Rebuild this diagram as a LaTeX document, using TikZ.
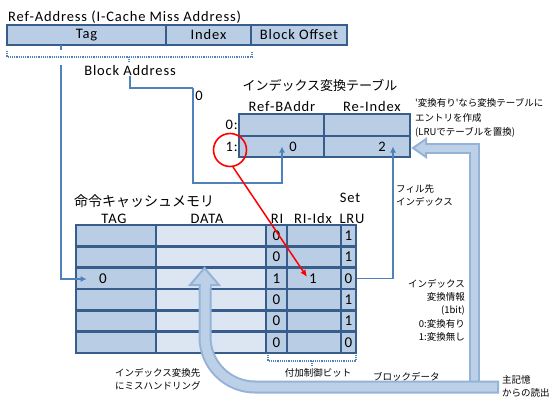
\documentclass[tikz,border=0pt]{standalone}
\usepackage{fontspec}
\setmainfont{Carlito}[LetterSpace=6]
\newfontfamily\jp{Noto Sans CJK JP}
\usetikzlibrary{arrows.meta,calc}
\definecolor{cellA}{HTML}{B9CDE5}
\definecolor{cellB}{HTML}{DCE6F2}
\definecolor{bord}{HTML}{385D8A}
\definecolor{wire}{HTML}{4F81BD}
\definecolor{fatout}{HTML}{95B3D7}
\definecolor{fatin}{HTML}{BCD0E8}
\begin{document}
\begin{tikzpicture}[x=1pt,y=-1pt,
  every node/.style={inner sep=0pt},
  cellbox/.style={draw=bord, line width=2.6pt, fill=cellA, minimum height=21.33pt, font=\fontsize{15}{15}\selectfont},
  databox/.style={cellbox, fill=cellB},
  lat/.style={font=\fontsize{14.5}{15}\selectfont},
  jpbig/.style={font=\jp\fontsize{13}{14}\selectfont},
  jpsmall/.style={font=\jp\fontsize{9.5}{11}\selectfont},
  wireline/.style={draw=wire, line width=1.4pt},
  wirearrow/.style={wireline, -{Latex[length=6pt,width=6pt]}},
  bracestyle/.style={draw=wire, line width=1.2pt, densely dotted},
  fatline/.style={line width=13pt, draw=fatout},
  fatinner/.style={line width=9pt, draw=fatin},
  fathead/.style={draw=fatout, line width=2pt, fill=fatin, line join=miter}
]
\useasboundingbox (0,0) rectangle (556,399);

% ---------- address bar ----------
\node[lat, anchor=west] (reftitle) at (8,17) {Ref-Address (I-Cache Miss Address)};
\node[cellbox, lat, minimum width=159pt, minimum height=20pt] (tag) at (86.5,35) {Tag};
\node[cellbox, lat, minimum width=85pt, minimum height=20pt] (idx) at (208.5,35) {Index};
\node[cellbox, lat, minimum width=96pt, minimum height=20pt] (boff) at (299,35) {Block Offset};

% brace under Tag+Index
\draw[bracestyle] (7,51) -- (7,57) -- (252,57) -- (252,51);
\draw[bracestyle] (129,57) -- (129,62);
\node[lat] (ba) at (130,71) {Block Address};

% ---------- index translation table ----------
\node[jpbig] (tttitle) at (320,85) {インデックス変換テーブル};
\node[lat] (hRB) at (282,107) {Ref-BAddr};
\node[lat] (hRI) at (372,107) {Re-Index};
\node[cellbox, minimum width=85pt, minimum height=22pt] (t0a) at (281.5,125) {};
\node[cellbox, minimum width=86pt, minimum height=22pt] (t0b) at (367,125) {};
\node[cellbox, minimum width=85pt, minimum height=21pt] (t1a) at (281.5,146.5) {};
\node[cellbox, minimum width=86pt, minimum height=21pt] (t1b) at (367,146.5) {};
\node[lat, anchor=east] (l0) at (238,125) {0:};
\node[lat, anchor=east] (l1) at (238,147) {1:};
\node[lat] (v0) at (293,147) {0};
\node[lat] (v2) at (382,147) {2};

\node[jpsmall, anchor=west] (n1) at (415,103) {'変換有り'なら変換テーブルに};
\node[jpsmall, anchor=west] (n2) at (415,117.5) {エントリを作成};
\node[jpsmall, anchor=west] (n3) at (415,132) {(LRUでテーブルを置換)};

% ---------- instruction cache ----------
\node[font=\jp\fontsize{14}{15}\selectfont, anchor=west] (ctitle) at (74,201) {命令キャッシュメモリ};
\node[lat] (hset) at (350,198) {Set};
\node[lat] (htag) at (114,219) {TAG};
\node[lat] (hdata) at (207,219) {DATA};
\node[lat] (hri) at (277,219) {RI};
\node[lat] (hridx) at (313,219) {RI-Idx};
\node[lat] (hlru) at (352,219) {LRU};

\foreach \r/\ri/\lru in {1/0/1,2/0/1,3/1/0,4/0/1,5/0/1,6/0/0} {
  \pgfmathsetmacro\yy{225+(\r-0.5)*21.33}
  \node[cellbox, minimum width=80pt] (ctag\r) at (116,\yy) {};
  \node[databox, minimum width=110pt] (cdata\r) at (211,\yy) {};
  \node[cellbox, minimum width=21pt] (cri\r) at (276.5,\yy) {\ri};
  \node[cellbox, minimum width=54pt] (cridx\r) at (314,\yy) {};
  \node[cellbox, minimum width=15pt] (clru\r) at (348.5,\yy) {\lru};
}
\node[font=\fontsize{15}{15}\selectfont] (tagval) at (103,279) {0};
\node[font=\fontsize{15}{15}\selectfont] (ridxval) at (313,279) {1};

% brace under control bits
\draw[bracestyle] (268,355) -- (268,361) -- (356,361) -- (356,355);
\draw[bracestyle] (312,361) -- (312,366);
\node[jpsmall] (ctrl) at (318,373) {付加制御ビット};

% ---------- big fat arrows ----------
\coordinate (rtop) at (474,148);
\coordinate (rhead) at (426,148);
\coordinate (rbot) at (474,385);
\draw[fatline, line width=11pt] (rbot) -- (rtop) -- (rhead);
\draw[fatinner, line width=7pt] (rbot) -- (rtop) -- (rhead);
\draw[fathead] (426,139) -- (413,148) -- (426,157) -- cycle;
\fill[fatin] (424,144.5) rectangle (428,151.5);

\coordinate (bend) at (499,387);
\coordinate (dhead) at (205,285);
\draw[fatline] (bend) -- (255,387) arc[start angle=90, end angle=180, radius=50] -- (dhead);
\draw[fatinner] ($(bend)+(-2,0)$) -- (255,387) arc[start angle=90, end angle=180, radius=50] -- (dhead);
\draw[fathead] (190,285) -- (204.5,268) -- (219,285) -- cycle;
\fill[fatin] (200.5,283) rectangle (209.5,288);

% ---------- connectors ----------
\draw[wireline] (61,45) -- (61,50);
\draw[wirearrow] (61,65) |- ($(ctag3.west)+(12,0.7)$);
\draw[wireline] (ba.south) |- (193,88);
\draw[wirearrow] (193,88) |- (282,183) -- ($(t1a.center)+(0.5,0)$);
\node[lat] (zero) at (199,96) {0};
\draw[wirearrow] (clru3.east) -| ($(t1b.center)+(26,0)$);
\node[jpsmall, anchor=west] (fill1) at (396,189) {フィル先};
\node[jpsmall, anchor=west] (fill2) at (396,202) {インデックス};

% red marker
\node[draw=red, line width=1.6pt, circle, minimum size=33pt] (circ) at (230,150) {};
\draw[red, line width=1.5pt, -{Latex[length=7pt,width=6pt]}] (circ.-80) -- ($(ridxval.west)+(-2,-2)$);

% ---------- labels ----------
\node[jpsmall, anchor=east] (i1) at (465,284) {インデックス};
\node[jpsmall, anchor=east] (i2) at (465,297) {変換情報};
\node[jpsmall, anchor=east] (i3) at (465,311) {(1bit)};
\node[jpsmall, anchor=east] (i4) at (465,324) {0:変換有り};
\node[jpsmall, anchor=east] (i5) at (465,337) {1:変換無し};

\node[jpsmall, anchor=west] (bd) at (373,377) {ブロックデータ};
\node[jpsmall, anchor=west] (m1) at (502,380) {主記憶};
\node[jpsmall, anchor=west] (m2) at (502,393) {からの読出};
\node[jpsmall, anchor=west] (h1) at (115,373) {インデックス変換先};
\node[jpsmall, anchor=west] (h2) at (115,386) {にミスハンドリング};
\end{tikzpicture}
\end{document}
